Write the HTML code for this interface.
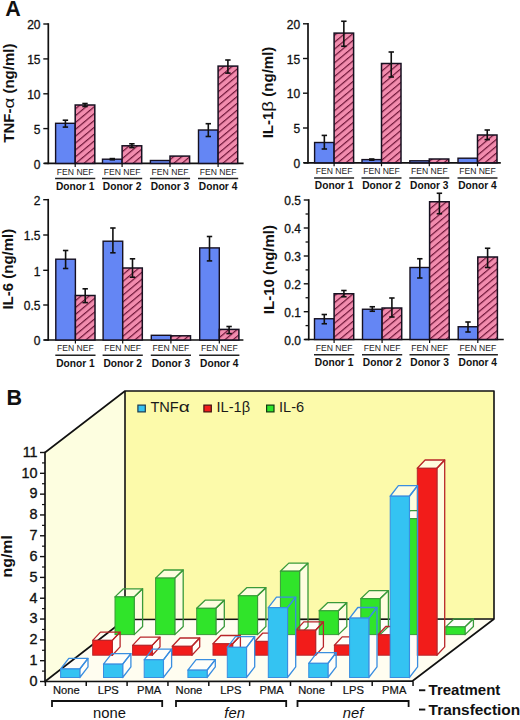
<!DOCTYPE html><html><head><meta charset="utf-8"><style>html,body{margin:0;padding:0;background:#fff;width:520px;height:720px;overflow:hidden}svg{display:block}</style></head><body>
<svg width="520" height="720" viewBox="0 0 520 720" font-family='"Liberation Sans", sans-serif'>
<defs>
<pattern id="hatch" patternUnits="userSpaceOnUse" width="5.25" height="5.25" patternTransform="rotate(50)"><rect width="5.25" height="5.25" fill="#f28cae"/><line x1="0.6" y1="0" x2="0.6" y2="5.25" stroke="#6e1538" stroke-width="1.2"/></pattern>
</defs>
<rect width="520" height="720" fill="#fff"/>
<text x="5.2" y="15.8" font-size="21.5" font-weight="bold" fill="#111">A</text>
<text x="6.5" y="404.8" font-size="21.5" font-weight="bold" fill="#111">B</text>
<line x1="48.3" y1="23.2" x2="48.3" y2="164.20000000000002" stroke="#111" stroke-width="1.7"/>
<line x1="44.3" y1="163.4" x2="243.6" y2="163.4" stroke="#111" stroke-width="1.7"/>
<line x1="43.3" y1="24" x2="48.3" y2="24" stroke="#111" stroke-width="1.4"/>
<text x="40.5" y="29.2" font-size="12" text-anchor="end" fill="#111" stroke="#111" stroke-width="0.3">20</text>
<line x1="43.3" y1="58.9" x2="48.3" y2="58.9" stroke="#111" stroke-width="1.4"/>
<text x="40.5" y="64.1" font-size="12" text-anchor="end" fill="#111" stroke="#111" stroke-width="0.3">15</text>
<line x1="43.3" y1="93.8" x2="48.3" y2="93.8" stroke="#111" stroke-width="1.4"/>
<text x="40.5" y="99.0" font-size="12" text-anchor="end" fill="#111" stroke="#111" stroke-width="0.3">10</text>
<line x1="43.3" y1="128.6" x2="48.3" y2="128.6" stroke="#111" stroke-width="1.4"/>
<text x="40.5" y="133.79999999999998" font-size="12" text-anchor="end" fill="#111" stroke="#111" stroke-width="0.3">5</text>
<line x1="43.3" y1="163.4" x2="48.3" y2="163.4" stroke="#111" stroke-width="1.4"/>
<text x="40.5" y="168.6" font-size="12" text-anchor="end" fill="#111" stroke="#111" stroke-width="0.3">0</text>
<rect x="55.6" y="123.3" width="19.6" height="40.10000000000001" fill="#6486f4" stroke="#161020" stroke-width="1.4"/>
<rect x="75.2" y="105" width="19.6" height="58.400000000000006" fill="url(#hatch)" stroke="#161020" stroke-width="1.5"/>
<line x1="65.4" y1="120.2" x2="65.4" y2="127.1" stroke="#111" stroke-width="1.6"/>
<line x1="62.7" y1="120.2" x2="68.10000000000001" y2="120.2" stroke="#111" stroke-width="1.6"/>
<line x1="62.7" y1="127.1" x2="68.10000000000001" y2="127.1" stroke="#111" stroke-width="1.6"/>
<line x1="85.0" y1="103.5" x2="85.0" y2="106.5" stroke="#111" stroke-width="1.6"/>
<line x1="82.3" y1="103.5" x2="87.7" y2="103.5" stroke="#111" stroke-width="1.6"/>
<line x1="82.3" y1="106.5" x2="87.7" y2="106.5" stroke="#111" stroke-width="1.6"/>
<line x1="75.2" y1="163.4" x2="75.2" y2="166.9" stroke="#111" stroke-width="1.2"/>
<text x="65.4" y="174.70000000000002" font-size="8.6" text-anchor="middle" fill="#222">FEN</text>
<text x="85.0" y="174.70000000000002" font-size="8.6" text-anchor="middle" fill="#222">NEF</text>
<line x1="55.1" y1="178.6" x2="95.30000000000001" y2="178.6" stroke="#222" stroke-width="1.5"/>
<text x="75.2" y="190.0" font-size="10.2" font-weight="bold" text-anchor="middle" fill="#111">Donor 1</text>
<rect x="102.5" y="159.2" width="19.6" height="4.200000000000017" fill="#6486f4" stroke="#161020" stroke-width="1.4"/>
<rect x="122.1" y="145.8" width="19.6" height="17.599999999999994" fill="url(#hatch)" stroke="#161020" stroke-width="1.5"/>
<line x1="112.3" y1="158.6" x2="112.3" y2="159.8" stroke="#111" stroke-width="1.6"/>
<line x1="109.6" y1="158.6" x2="115.0" y2="158.6" stroke="#111" stroke-width="1.6"/>
<line x1="109.6" y1="159.8" x2="115.0" y2="159.8" stroke="#111" stroke-width="1.6"/>
<line x1="131.9" y1="143.8" x2="131.9" y2="147.6" stroke="#111" stroke-width="1.6"/>
<line x1="129.20000000000002" y1="143.8" x2="134.6" y2="143.8" stroke="#111" stroke-width="1.6"/>
<line x1="129.20000000000002" y1="147.6" x2="134.6" y2="147.6" stroke="#111" stroke-width="1.6"/>
<line x1="122.1" y1="163.4" x2="122.1" y2="166.9" stroke="#111" stroke-width="1.2"/>
<text x="112.3" y="174.70000000000002" font-size="8.6" text-anchor="middle" fill="#222">FEN</text>
<text x="131.9" y="174.70000000000002" font-size="8.6" text-anchor="middle" fill="#222">NEF</text>
<line x1="102.0" y1="178.6" x2="142.2" y2="178.6" stroke="#222" stroke-width="1.5"/>
<text x="122.1" y="190.0" font-size="10.2" font-weight="bold" text-anchor="middle" fill="#111">Donor 2</text>
<rect x="150.4" y="160.5" width="19.6" height="2.9000000000000057" fill="#6486f4" stroke="#161020" stroke-width="1.4"/>
<rect x="170.0" y="156.1" width="19.6" height="7.300000000000011" fill="url(#hatch)" stroke="#161020" stroke-width="1.5"/>
<line x1="170.0" y1="163.4" x2="170.0" y2="166.9" stroke="#111" stroke-width="1.2"/>
<text x="160.20000000000002" y="174.70000000000002" font-size="8.6" text-anchor="middle" fill="#222">FEN</text>
<text x="179.8" y="174.70000000000002" font-size="8.6" text-anchor="middle" fill="#222">NEF</text>
<line x1="149.9" y1="178.6" x2="190.10000000000002" y2="178.6" stroke="#222" stroke-width="1.5"/>
<text x="170.0" y="190.0" font-size="10.2" font-weight="bold" text-anchor="middle" fill="#111">Donor 3</text>
<rect x="198.5" y="130" width="19.6" height="33.400000000000006" fill="#6486f4" stroke="#161020" stroke-width="1.4"/>
<rect x="218.1" y="66.1" width="19.6" height="97.30000000000001" fill="url(#hatch)" stroke="#161020" stroke-width="1.5"/>
<line x1="208.3" y1="123.7" x2="208.3" y2="136.5" stroke="#111" stroke-width="1.6"/>
<line x1="205.60000000000002" y1="123.7" x2="211.0" y2="123.7" stroke="#111" stroke-width="1.6"/>
<line x1="205.60000000000002" y1="136.5" x2="211.0" y2="136.5" stroke="#111" stroke-width="1.6"/>
<line x1="227.9" y1="60" x2="227.9" y2="73.1" stroke="#111" stroke-width="1.6"/>
<line x1="225.20000000000002" y1="60" x2="230.6" y2="60" stroke="#111" stroke-width="1.6"/>
<line x1="225.20000000000002" y1="73.1" x2="230.6" y2="73.1" stroke="#111" stroke-width="1.6"/>
<line x1="218.1" y1="163.4" x2="218.1" y2="166.9" stroke="#111" stroke-width="1.2"/>
<text x="208.3" y="174.70000000000002" font-size="8.6" text-anchor="middle" fill="#222">FEN</text>
<text x="227.9" y="174.70000000000002" font-size="8.6" text-anchor="middle" fill="#222">NEF</text>
<line x1="198.0" y1="178.6" x2="238.2" y2="178.6" stroke="#222" stroke-width="1.5"/>
<text x="218.1" y="190.0" font-size="10.2" font-weight="bold" text-anchor="middle" fill="#111">Donor 4</text>
<g transform="translate(14.0,93.2) rotate(-90)" font-size="15" fill="#111">
<text x="-49.58" y="0" font-weight="bold">TNF-</text>
<text transform="translate(-15.42,0) scale(1.25,1)" x="0" y="0">α</text>
<text x="-4.59" y="0" font-weight="bold" xml:space="preserve"> (ng/ml)</text>
</g>
<line x1="308" y1="23.0" x2="308" y2="163.60000000000002" stroke="#111" stroke-width="1.7"/>
<line x1="304" y1="162.8" x2="500.8" y2="162.8" stroke="#111" stroke-width="1.7"/>
<line x1="303" y1="23.8" x2="308" y2="23.8" stroke="#111" stroke-width="1.4"/>
<text x="300.2" y="29.0" font-size="12" text-anchor="end" fill="#111" stroke="#111" stroke-width="0.3">20</text>
<line x1="303" y1="58.5" x2="308" y2="58.5" stroke="#111" stroke-width="1.4"/>
<text x="300.2" y="63.7" font-size="12" text-anchor="end" fill="#111" stroke="#111" stroke-width="0.3">15</text>
<line x1="303" y1="93.2" x2="308" y2="93.2" stroke="#111" stroke-width="1.4"/>
<text x="300.2" y="98.4" font-size="12" text-anchor="end" fill="#111" stroke="#111" stroke-width="0.3">10</text>
<line x1="303" y1="128" x2="308" y2="128" stroke="#111" stroke-width="1.4"/>
<text x="300.2" y="133.2" font-size="12" text-anchor="end" fill="#111" stroke="#111" stroke-width="0.3">5</text>
<line x1="303" y1="162.8" x2="308" y2="162.8" stroke="#111" stroke-width="1.4"/>
<text x="300.2" y="168.0" font-size="12" text-anchor="end" fill="#111" stroke="#111" stroke-width="0.3">0</text>
<rect x="314.6" y="142.5" width="19.5" height="20.30000000000001" fill="#6486f4" stroke="#161020" stroke-width="1.4"/>
<rect x="334.1" y="33.1" width="19.5" height="129.70000000000002" fill="url(#hatch)" stroke="#161020" stroke-width="1.5"/>
<line x1="324.35" y1="135.4" x2="324.35" y2="149" stroke="#111" stroke-width="1.6"/>
<line x1="321.65000000000003" y1="135.4" x2="327.05" y2="135.4" stroke="#111" stroke-width="1.6"/>
<line x1="321.65000000000003" y1="149" x2="327.05" y2="149" stroke="#111" stroke-width="1.6"/>
<line x1="343.85" y1="21.25" x2="343.85" y2="46.25" stroke="#111" stroke-width="1.6"/>
<line x1="341.15000000000003" y1="21.25" x2="346.55" y2="21.25" stroke="#111" stroke-width="1.6"/>
<line x1="341.15000000000003" y1="46.25" x2="346.55" y2="46.25" stroke="#111" stroke-width="1.6"/>
<line x1="334.1" y1="162.8" x2="334.1" y2="166.3" stroke="#111" stroke-width="1.2"/>
<text x="324.35" y="174.10000000000002" font-size="8.6" text-anchor="middle" fill="#222">FEN</text>
<text x="343.85" y="174.10000000000002" font-size="8.6" text-anchor="middle" fill="#222">NEF</text>
<line x1="314.1" y1="178.0" x2="354.1" y2="178.0" stroke="#222" stroke-width="1.5"/>
<text x="334.1" y="189.4" font-size="10.2" font-weight="bold" text-anchor="middle" fill="#111">Donor 1</text>
<rect x="362" y="159.6" width="19.5" height="3.200000000000017" fill="#6486f4" stroke="#161020" stroke-width="1.4"/>
<rect x="381.5" y="63.5" width="19.5" height="99.30000000000001" fill="url(#hatch)" stroke="#161020" stroke-width="1.5"/>
<line x1="371.75" y1="159" x2="371.75" y2="160.2" stroke="#111" stroke-width="1.6"/>
<line x1="369.05" y1="159" x2="374.45" y2="159" stroke="#111" stroke-width="1.6"/>
<line x1="369.05" y1="160.2" x2="374.45" y2="160.2" stroke="#111" stroke-width="1.6"/>
<line x1="391.25" y1="52" x2="391.25" y2="77" stroke="#111" stroke-width="1.6"/>
<line x1="388.55" y1="52" x2="393.95" y2="52" stroke="#111" stroke-width="1.6"/>
<line x1="388.55" y1="77" x2="393.95" y2="77" stroke="#111" stroke-width="1.6"/>
<line x1="381.5" y1="162.8" x2="381.5" y2="166.3" stroke="#111" stroke-width="1.2"/>
<text x="371.75" y="174.10000000000002" font-size="8.6" text-anchor="middle" fill="#222">FEN</text>
<text x="391.25" y="174.10000000000002" font-size="8.6" text-anchor="middle" fill="#222">NEF</text>
<line x1="361.5" y1="178.0" x2="401.5" y2="178.0" stroke="#222" stroke-width="1.5"/>
<text x="381.5" y="189.4" font-size="10.2" font-weight="bold" text-anchor="middle" fill="#111">Donor 2</text>
<rect x="409.8" y="160.8" width="19.5" height="2.0" fill="#6486f4" stroke="#161020" stroke-width="1.4"/>
<rect x="429.3" y="159" width="19.5" height="3.8000000000000114" fill="url(#hatch)" stroke="#161020" stroke-width="1.5"/>
<line x1="429.3" y1="162.8" x2="429.3" y2="166.3" stroke="#111" stroke-width="1.2"/>
<text x="419.55" y="174.10000000000002" font-size="8.6" text-anchor="middle" fill="#222">FEN</text>
<text x="439.05" y="174.10000000000002" font-size="8.6" text-anchor="middle" fill="#222">NEF</text>
<line x1="409.3" y1="178.0" x2="449.3" y2="178.0" stroke="#222" stroke-width="1.5"/>
<text x="429.3" y="189.4" font-size="10.2" font-weight="bold" text-anchor="middle" fill="#111">Donor 3</text>
<rect x="458" y="158.2" width="19.5" height="4.600000000000023" fill="#6486f4" stroke="#161020" stroke-width="1.4"/>
<rect x="477.5" y="135" width="19.5" height="27.80000000000001" fill="url(#hatch)" stroke="#161020" stroke-width="1.5"/>
<line x1="487.25" y1="130" x2="487.25" y2="139.6" stroke="#111" stroke-width="1.6"/>
<line x1="484.55" y1="130" x2="489.95" y2="130" stroke="#111" stroke-width="1.6"/>
<line x1="484.55" y1="139.6" x2="489.95" y2="139.6" stroke="#111" stroke-width="1.6"/>
<line x1="477.5" y1="162.8" x2="477.5" y2="166.3" stroke="#111" stroke-width="1.2"/>
<text x="467.75" y="174.10000000000002" font-size="8.6" text-anchor="middle" fill="#222">FEN</text>
<text x="487.25" y="174.10000000000002" font-size="8.6" text-anchor="middle" fill="#222">NEF</text>
<line x1="457.5" y1="178.0" x2="497.5" y2="178.0" stroke="#222" stroke-width="1.5"/>
<text x="477.5" y="189.4" font-size="10.2" font-weight="bold" text-anchor="middle" fill="#111">Donor 4</text>
<g transform="translate(273.1,92.5) rotate(-90)" font-size="15" fill="#111">
<text x="-45.84" y="0" font-weight="bold">IL-1</text>
<text transform="translate(-19.17,0) scale(1.25,1)" x="0" y="0">β</text>
<text x="-8.33" y="0" font-weight="bold" xml:space="preserve"> (ng/ml)</text>
</g>
<line x1="48.2" y1="198.89999999999998" x2="48.2" y2="340.8" stroke="#111" stroke-width="1.7"/>
<line x1="44.2" y1="340" x2="243.4" y2="340" stroke="#111" stroke-width="1.7"/>
<line x1="43.2" y1="199.7" x2="48.2" y2="199.7" stroke="#111" stroke-width="1.4"/>
<text x="40.400000000000006" y="204.89999999999998" font-size="12" text-anchor="end" fill="#111" stroke="#111" stroke-width="0.3">2</text>
<line x1="43.2" y1="235" x2="48.2" y2="235" stroke="#111" stroke-width="1.4"/>
<text x="40.400000000000006" y="240.2" font-size="12" text-anchor="end" fill="#111" stroke="#111" stroke-width="0.3">1.5</text>
<line x1="43.2" y1="270.3" x2="48.2" y2="270.3" stroke="#111" stroke-width="1.4"/>
<text x="40.400000000000006" y="275.5" font-size="12" text-anchor="end" fill="#111" stroke="#111" stroke-width="0.3">1</text>
<line x1="43.2" y1="305" x2="48.2" y2="305" stroke="#111" stroke-width="1.4"/>
<text x="40.400000000000006" y="310.2" font-size="12" text-anchor="end" fill="#111" stroke="#111" stroke-width="0.3">0.5</text>
<line x1="43.2" y1="340" x2="48.2" y2="340" stroke="#111" stroke-width="1.4"/>
<text x="40.400000000000006" y="345.2" font-size="12" text-anchor="end" fill="#111" stroke="#111" stroke-width="0.3">0</text>
<rect x="55.8" y="259.2" width="19.6" height="80.80000000000001" fill="#6486f4" stroke="#161020" stroke-width="1.4"/>
<rect x="75.4" y="295.5" width="19.6" height="44.5" fill="url(#hatch)" stroke="#161020" stroke-width="1.5"/>
<line x1="65.6" y1="250.5" x2="65.6" y2="268.5" stroke="#111" stroke-width="1.6"/>
<line x1="62.89999999999999" y1="250.5" x2="68.3" y2="250.5" stroke="#111" stroke-width="1.6"/>
<line x1="62.89999999999999" y1="268.5" x2="68.3" y2="268.5" stroke="#111" stroke-width="1.6"/>
<line x1="85.2" y1="288.8" x2="85.2" y2="302.6" stroke="#111" stroke-width="1.6"/>
<line x1="82.5" y1="288.8" x2="87.9" y2="288.8" stroke="#111" stroke-width="1.6"/>
<line x1="82.5" y1="302.6" x2="87.9" y2="302.6" stroke="#111" stroke-width="1.6"/>
<line x1="75.4" y1="340" x2="75.4" y2="343.5" stroke="#111" stroke-width="1.2"/>
<text x="65.6" y="351.3" font-size="8.6" text-anchor="middle" fill="#222">FEN</text>
<text x="85.2" y="351.3" font-size="8.6" text-anchor="middle" fill="#222">NEF</text>
<line x1="55.3" y1="355.2" x2="95.5" y2="355.2" stroke="#222" stroke-width="1.5"/>
<text x="75.4" y="366.6" font-size="10.2" font-weight="bold" text-anchor="middle" fill="#111">Donor 1</text>
<rect x="103.1" y="241.2" width="19.6" height="98.80000000000001" fill="#6486f4" stroke="#161020" stroke-width="1.4"/>
<rect x="122.69999999999999" y="268" width="19.6" height="72" fill="url(#hatch)" stroke="#161020" stroke-width="1.5"/>
<line x1="112.89999999999999" y1="228" x2="112.89999999999999" y2="252.8" stroke="#111" stroke-width="1.6"/>
<line x1="110.19999999999999" y1="228" x2="115.6" y2="228" stroke="#111" stroke-width="1.6"/>
<line x1="110.19999999999999" y1="252.8" x2="115.6" y2="252.8" stroke="#111" stroke-width="1.6"/>
<line x1="132.5" y1="258.8" x2="132.5" y2="277.2" stroke="#111" stroke-width="1.6"/>
<line x1="129.8" y1="258.8" x2="135.2" y2="258.8" stroke="#111" stroke-width="1.6"/>
<line x1="129.8" y1="277.2" x2="135.2" y2="277.2" stroke="#111" stroke-width="1.6"/>
<line x1="122.69999999999999" y1="340" x2="122.69999999999999" y2="343.5" stroke="#111" stroke-width="1.2"/>
<text x="112.89999999999999" y="351.3" font-size="8.6" text-anchor="middle" fill="#222">FEN</text>
<text x="132.5" y="351.3" font-size="8.6" text-anchor="middle" fill="#222">NEF</text>
<line x1="102.6" y1="355.2" x2="142.8" y2="355.2" stroke="#222" stroke-width="1.5"/>
<text x="122.69999999999999" y="366.6" font-size="10.2" font-weight="bold" text-anchor="middle" fill="#111">Donor 2</text>
<rect x="151.3" y="335.3" width="19.6" height="4.699999999999989" fill="#6486f4" stroke="#161020" stroke-width="1.4"/>
<rect x="170.9" y="335.8" width="19.6" height="4.199999999999989" fill="url(#hatch)" stroke="#161020" stroke-width="1.5"/>
<line x1="170.9" y1="340" x2="170.9" y2="343.5" stroke="#111" stroke-width="1.2"/>
<text x="161.10000000000002" y="351.3" font-size="8.6" text-anchor="middle" fill="#222">FEN</text>
<text x="180.70000000000002" y="351.3" font-size="8.6" text-anchor="middle" fill="#222">NEF</text>
<line x1="150.8" y1="355.2" x2="191.0" y2="355.2" stroke="#222" stroke-width="1.5"/>
<text x="170.9" y="366.6" font-size="10.2" font-weight="bold" text-anchor="middle" fill="#111">Donor 3</text>
<rect x="199.7" y="247.9" width="19.6" height="92.1" fill="#6486f4" stroke="#161020" stroke-width="1.4"/>
<rect x="219.29999999999998" y="329.4" width="19.6" height="10.600000000000023" fill="url(#hatch)" stroke="#161020" stroke-width="1.5"/>
<line x1="209.5" y1="236.5" x2="209.5" y2="260.9" stroke="#111" stroke-width="1.6"/>
<line x1="206.8" y1="236.5" x2="212.2" y2="236.5" stroke="#111" stroke-width="1.6"/>
<line x1="206.8" y1="260.9" x2="212.2" y2="260.9" stroke="#111" stroke-width="1.6"/>
<line x1="229.1" y1="326.5" x2="229.1" y2="333.6" stroke="#111" stroke-width="1.6"/>
<line x1="226.4" y1="326.5" x2="231.79999999999998" y2="326.5" stroke="#111" stroke-width="1.6"/>
<line x1="226.4" y1="333.6" x2="231.79999999999998" y2="333.6" stroke="#111" stroke-width="1.6"/>
<line x1="219.29999999999998" y1="340" x2="219.29999999999998" y2="343.5" stroke="#111" stroke-width="1.2"/>
<text x="209.5" y="351.3" font-size="8.6" text-anchor="middle" fill="#222">FEN</text>
<text x="229.1" y="351.3" font-size="8.6" text-anchor="middle" fill="#222">NEF</text>
<line x1="199.2" y1="355.2" x2="239.39999999999998" y2="355.2" stroke="#222" stroke-width="1.5"/>
<text x="219.29999999999998" y="366.6" font-size="10.2" font-weight="bold" text-anchor="middle" fill="#111">Donor 4</text>
<g transform="translate(13.2,269.2) rotate(-90)" font-size="15" fill="#111">
<text x="-40.42" y="0" font-weight="bold">IL-6</text>
<text x="-13.75" y="0" font-weight="bold" xml:space="preserve"> (ng/ml)</text>
</g>
<line x1="308.75" y1="199.2" x2="308.75" y2="340.3" stroke="#111" stroke-width="1.7"/>
<line x1="304.75" y1="339.5" x2="503.75" y2="339.5" stroke="#111" stroke-width="1.7"/>
<line x1="305.55" y1="214.00" x2="308.75" y2="214.00" stroke="#111" stroke-width="1.3"/>
<line x1="305.55" y1="242.00" x2="308.75" y2="242.00" stroke="#111" stroke-width="1.3"/>
<line x1="305.55" y1="269.90" x2="308.75" y2="269.90" stroke="#111" stroke-width="1.3"/>
<line x1="305.55" y1="297.75" x2="308.75" y2="297.75" stroke="#111" stroke-width="1.3"/>
<line x1="305.55" y1="325.60" x2="308.75" y2="325.60" stroke="#111" stroke-width="1.3"/>
<line x1="303.75" y1="200" x2="308.75" y2="200" stroke="#111" stroke-width="1.4"/>
<text x="300.95" y="205.2" font-size="12" text-anchor="end" fill="#111" stroke="#111" stroke-width="0.3">0.5</text>
<line x1="303.75" y1="228" x2="308.75" y2="228" stroke="#111" stroke-width="1.4"/>
<text x="300.95" y="233.2" font-size="12" text-anchor="end" fill="#111" stroke="#111" stroke-width="0.3">0.4</text>
<line x1="303.75" y1="256" x2="308.75" y2="256" stroke="#111" stroke-width="1.4"/>
<text x="300.95" y="261.2" font-size="12" text-anchor="end" fill="#111" stroke="#111" stroke-width="0.3">0.3</text>
<line x1="303.75" y1="283.8" x2="308.75" y2="283.8" stroke="#111" stroke-width="1.4"/>
<text x="300.95" y="289.0" font-size="12" text-anchor="end" fill="#111" stroke="#111" stroke-width="0.3">0.2</text>
<line x1="303.75" y1="311.7" x2="308.75" y2="311.7" stroke="#111" stroke-width="1.4"/>
<text x="300.95" y="316.9" font-size="12" text-anchor="end" fill="#111" stroke="#111" stroke-width="0.3">0.1</text>
<line x1="303.75" y1="339.5" x2="308.75" y2="339.5" stroke="#111" stroke-width="1.4"/>
<text x="300.95" y="344.7" font-size="12" text-anchor="end" fill="#111" stroke="#111" stroke-width="0.3">0.0</text>
<rect x="314.5" y="318.75" width="19.6" height="20.75" fill="#6486f4" stroke="#161020" stroke-width="1.4"/>
<rect x="334.1" y="293.75" width="19.6" height="45.75" fill="url(#hatch)" stroke="#161020" stroke-width="1.5"/>
<line x1="324.3" y1="314.5" x2="324.3" y2="323.75" stroke="#111" stroke-width="1.6"/>
<line x1="321.6" y1="314.5" x2="327.0" y2="314.5" stroke="#111" stroke-width="1.6"/>
<line x1="321.6" y1="323.75" x2="327.0" y2="323.75" stroke="#111" stroke-width="1.6"/>
<line x1="343.9" y1="290.5" x2="343.9" y2="296.75" stroke="#111" stroke-width="1.6"/>
<line x1="341.2" y1="290.5" x2="346.59999999999997" y2="290.5" stroke="#111" stroke-width="1.6"/>
<line x1="341.2" y1="296.75" x2="346.59999999999997" y2="296.75" stroke="#111" stroke-width="1.6"/>
<line x1="334.1" y1="339.5" x2="334.1" y2="343.0" stroke="#111" stroke-width="1.2"/>
<text x="324.3" y="350.8" font-size="8.6" text-anchor="middle" fill="#222">FEN</text>
<text x="343.9" y="350.8" font-size="8.6" text-anchor="middle" fill="#222">NEF</text>
<line x1="314.0" y1="354.7" x2="354.2" y2="354.7" stroke="#222" stroke-width="1.5"/>
<text x="334.1" y="366.1" font-size="10.2" font-weight="bold" text-anchor="middle" fill="#111">Donor 1</text>
<rect x="362.5" y="309.25" width="19.6" height="30.25" fill="#6486f4" stroke="#161020" stroke-width="1.4"/>
<rect x="382.1" y="308" width="19.6" height="31.5" fill="url(#hatch)" stroke="#161020" stroke-width="1.5"/>
<line x1="372.3" y1="306.75" x2="372.3" y2="311.25" stroke="#111" stroke-width="1.6"/>
<line x1="369.6" y1="306.75" x2="375.0" y2="306.75" stroke="#111" stroke-width="1.6"/>
<line x1="369.6" y1="311.25" x2="375.0" y2="311.25" stroke="#111" stroke-width="1.6"/>
<line x1="391.9" y1="298" x2="391.9" y2="317" stroke="#111" stroke-width="1.6"/>
<line x1="389.2" y1="298" x2="394.59999999999997" y2="298" stroke="#111" stroke-width="1.6"/>
<line x1="389.2" y1="317" x2="394.59999999999997" y2="317" stroke="#111" stroke-width="1.6"/>
<line x1="382.1" y1="339.5" x2="382.1" y2="343.0" stroke="#111" stroke-width="1.2"/>
<text x="372.3" y="350.8" font-size="8.6" text-anchor="middle" fill="#222">FEN</text>
<text x="391.9" y="350.8" font-size="8.6" text-anchor="middle" fill="#222">NEF</text>
<line x1="362.0" y1="354.7" x2="402.2" y2="354.7" stroke="#222" stroke-width="1.5"/>
<text x="382.1" y="366.1" font-size="10.2" font-weight="bold" text-anchor="middle" fill="#111">Donor 2</text>
<rect x="410" y="267.5" width="19.6" height="72.0" fill="#6486f4" stroke="#161020" stroke-width="1.4"/>
<rect x="429.6" y="201.75" width="19.6" height="137.75" fill="url(#hatch)" stroke="#161020" stroke-width="1.5"/>
<line x1="419.8" y1="258.75" x2="419.8" y2="278" stroke="#111" stroke-width="1.6"/>
<line x1="417.1" y1="258.75" x2="422.5" y2="258.75" stroke="#111" stroke-width="1.6"/>
<line x1="417.1" y1="278" x2="422.5" y2="278" stroke="#111" stroke-width="1.6"/>
<line x1="439.4" y1="193.25" x2="439.4" y2="213.75" stroke="#111" stroke-width="1.6"/>
<line x1="436.7" y1="193.25" x2="442.09999999999997" y2="193.25" stroke="#111" stroke-width="1.6"/>
<line x1="436.7" y1="213.75" x2="442.09999999999997" y2="213.75" stroke="#111" stroke-width="1.6"/>
<line x1="429.6" y1="339.5" x2="429.6" y2="343.0" stroke="#111" stroke-width="1.2"/>
<text x="419.8" y="350.8" font-size="8.6" text-anchor="middle" fill="#222">FEN</text>
<text x="439.4" y="350.8" font-size="8.6" text-anchor="middle" fill="#222">NEF</text>
<line x1="409.5" y1="354.7" x2="449.7" y2="354.7" stroke="#222" stroke-width="1.5"/>
<text x="429.6" y="366.1" font-size="10.2" font-weight="bold" text-anchor="middle" fill="#111">Donor 3</text>
<rect x="458.2" y="326.75" width="19.6" height="12.75" fill="#6486f4" stroke="#161020" stroke-width="1.4"/>
<rect x="477.8" y="257" width="19.6" height="82.5" fill="url(#hatch)" stroke="#161020" stroke-width="1.5"/>
<line x1="468.0" y1="322" x2="468.0" y2="332" stroke="#111" stroke-width="1.6"/>
<line x1="465.3" y1="322" x2="470.7" y2="322" stroke="#111" stroke-width="1.6"/>
<line x1="465.3" y1="332" x2="470.7" y2="332" stroke="#111" stroke-width="1.6"/>
<line x1="487.59999999999997" y1="248.25" x2="487.59999999999997" y2="267.5" stroke="#111" stroke-width="1.6"/>
<line x1="484.9" y1="248.25" x2="490.29999999999995" y2="248.25" stroke="#111" stroke-width="1.6"/>
<line x1="484.9" y1="267.5" x2="490.29999999999995" y2="267.5" stroke="#111" stroke-width="1.6"/>
<line x1="477.8" y1="339.5" x2="477.8" y2="343.0" stroke="#111" stroke-width="1.2"/>
<text x="468.0" y="350.8" font-size="8.6" text-anchor="middle" fill="#222">FEN</text>
<text x="487.59999999999997" y="350.8" font-size="8.6" text-anchor="middle" fill="#222">NEF</text>
<line x1="457.7" y1="354.7" x2="497.9" y2="354.7" stroke="#222" stroke-width="1.5"/>
<text x="477.8" y="366.1" font-size="10.2" font-weight="bold" text-anchor="middle" fill="#111">Donor 4</text>
<g transform="translate(274.0,269.6) rotate(-90)" font-size="15" fill="#111">
<text x="-44.59" y="0" font-weight="bold">IL-10</text>
<text x="-9.58" y="0" font-weight="bold" xml:space="preserve"> (ng/ml)</text>
</g>
<polygon points="45,452.5 125,391 125,619.5 45,681.5" fill="#fdfee0"/>
<rect x="125" y="391" width="369" height="228.5" fill="#fcfaaa"/>
<polygon points="45,681.5 125,619.5 494,619 412.5,681" fill="#fffdf0"/>
<line x1="45" y1="451.8" x2="45" y2="682.3" stroke="#111" stroke-width="1.7"/>
<line x1="44.2" y1="681.5" x2="413" y2="681.2" stroke="#111" stroke-width="1.7"/>
<line x1="40" y1="681.50" x2="45" y2="681.50" stroke="#111" stroke-width="1.4"/>
<text x="37.6" y="685.80" font-size="14.4" text-anchor="end" fill="#111" stroke="#111" stroke-width="0.35">0</text>
<line x1="42" y1="671.09" x2="45" y2="671.09" stroke="#111" stroke-width="1.2"/>
<line x1="40" y1="660.68" x2="45" y2="660.68" stroke="#111" stroke-width="1.4"/>
<text x="37.6" y="664.98" font-size="14.4" text-anchor="end" fill="#111" stroke="#111" stroke-width="0.35">1</text>
<line x1="42" y1="650.27" x2="45" y2="650.27" stroke="#111" stroke-width="1.2"/>
<line x1="40" y1="639.86" x2="45" y2="639.86" stroke="#111" stroke-width="1.4"/>
<text x="37.6" y="644.16" font-size="14.4" text-anchor="end" fill="#111" stroke="#111" stroke-width="0.35">2</text>
<line x1="42" y1="629.45" x2="45" y2="629.45" stroke="#111" stroke-width="1.2"/>
<line x1="40" y1="619.05" x2="45" y2="619.05" stroke="#111" stroke-width="1.4"/>
<text x="37.6" y="623.35" font-size="14.4" text-anchor="end" fill="#111" stroke="#111" stroke-width="0.35">3</text>
<line x1="42" y1="608.64" x2="45" y2="608.64" stroke="#111" stroke-width="1.2"/>
<line x1="40" y1="598.23" x2="45" y2="598.23" stroke="#111" stroke-width="1.4"/>
<text x="37.6" y="602.53" font-size="14.4" text-anchor="end" fill="#111" stroke="#111" stroke-width="0.35">4</text>
<line x1="42" y1="587.82" x2="45" y2="587.82" stroke="#111" stroke-width="1.2"/>
<line x1="40" y1="577.41" x2="45" y2="577.41" stroke="#111" stroke-width="1.4"/>
<text x="37.6" y="581.71" font-size="14.4" text-anchor="end" fill="#111" stroke="#111" stroke-width="0.35">5</text>
<line x1="42" y1="567.00" x2="45" y2="567.00" stroke="#111" stroke-width="1.2"/>
<line x1="40" y1="556.59" x2="45" y2="556.59" stroke="#111" stroke-width="1.4"/>
<text x="37.6" y="560.89" font-size="14.4" text-anchor="end" fill="#111" stroke="#111" stroke-width="0.35">6</text>
<line x1="42" y1="546.18" x2="45" y2="546.18" stroke="#111" stroke-width="1.2"/>
<line x1="40" y1="535.77" x2="45" y2="535.77" stroke="#111" stroke-width="1.4"/>
<text x="37.6" y="540.07" font-size="14.4" text-anchor="end" fill="#111" stroke="#111" stroke-width="0.35">7</text>
<line x1="42" y1="525.36" x2="45" y2="525.36" stroke="#111" stroke-width="1.2"/>
<line x1="40" y1="514.95" x2="45" y2="514.95" stroke="#111" stroke-width="1.4"/>
<text x="37.6" y="519.25" font-size="14.4" text-anchor="end" fill="#111" stroke="#111" stroke-width="0.35">8</text>
<line x1="42" y1="504.55" x2="45" y2="504.55" stroke="#111" stroke-width="1.2"/>
<line x1="40" y1="494.14" x2="45" y2="494.14" stroke="#111" stroke-width="1.4"/>
<text x="37.6" y="498.44" font-size="14.4" text-anchor="end" fill="#111" stroke="#111" stroke-width="0.35">9</text>
<line x1="42" y1="483.73" x2="45" y2="483.73" stroke="#111" stroke-width="1.2"/>
<line x1="40" y1="473.32" x2="45" y2="473.32" stroke="#111" stroke-width="1.4"/>
<text x="37.6" y="477.62" font-size="14.4" text-anchor="end" fill="#111" stroke="#111" stroke-width="0.35">10</text>
<line x1="42" y1="462.91" x2="45" y2="462.91" stroke="#111" stroke-width="1.2"/>
<line x1="40" y1="452.50" x2="45" y2="452.50" stroke="#111" stroke-width="1.4"/>
<text x="37.6" y="456.80" font-size="14.4" text-anchor="end" fill="#111" stroke="#111" stroke-width="0.35">11</text>
<text transform="translate(11.6,556.3) rotate(-90)" font-size="14.8" font-weight="bold" text-anchor="middle" fill="#111" textLength="42.3" lengthAdjust="spacingAndGlyphs">ng/ml</text>
<line x1="86.25" y1="681.3" x2="86.25" y2="686" stroke="#111" stroke-width="1.5"/>
<line x1="127.10" y1="681.3" x2="127.10" y2="686" stroke="#111" stroke-width="1.5"/>
<line x1="167.95" y1="681.3" x2="167.95" y2="686" stroke="#111" stroke-width="1.5"/>
<line x1="208.80" y1="681.3" x2="208.80" y2="686" stroke="#111" stroke-width="1.5"/>
<line x1="249.65" y1="681.3" x2="249.65" y2="686" stroke="#111" stroke-width="1.5"/>
<line x1="290.50" y1="681.3" x2="290.50" y2="686" stroke="#111" stroke-width="1.5"/>
<line x1="331.35" y1="681.3" x2="331.35" y2="686" stroke="#111" stroke-width="1.5"/>
<line x1="372.20" y1="681.3" x2="372.20" y2="686" stroke="#111" stroke-width="1.5"/>
<line x1="413.05" y1="681.3" x2="413.05" y2="686" stroke="#111" stroke-width="1.5"/>
<line x1="45.4" y1="681.3" x2="45.4" y2="686" stroke="#111" stroke-width="1.5"/>
<text x="66.42" y="694" font-size="11.2" text-anchor="middle" fill="#111" stroke="#111" stroke-width="0.2">None</text>
<text x="108.27" y="694" font-size="11.2" text-anchor="middle" fill="#111" stroke="#111" stroke-width="0.2">LPS</text>
<text x="149.12" y="694" font-size="11.2" text-anchor="middle" fill="#111" stroke="#111" stroke-width="0.2">PMA</text>
<text x="188.97" y="694" font-size="11.2" text-anchor="middle" fill="#111" stroke="#111" stroke-width="0.2">None</text>
<text x="230.83" y="694" font-size="11.2" text-anchor="middle" fill="#111" stroke="#111" stroke-width="0.2">LPS</text>
<text x="271.68" y="694" font-size="11.2" text-anchor="middle" fill="#111" stroke="#111" stroke-width="0.2">PMA</text>
<text x="311.52" y="694" font-size="11.2" text-anchor="middle" fill="#111" stroke="#111" stroke-width="0.2">None</text>
<text x="353.38" y="694" font-size="11.2" text-anchor="middle" fill="#111" stroke="#111" stroke-width="0.2">LPS</text>
<text x="394.23" y="694" font-size="11.2" text-anchor="middle" fill="#111" stroke="#111" stroke-width="0.2">PMA</text>
<polyline points="52,707 52,701 162.2,701 162.2,707" fill="none" stroke="#111" stroke-width="1.8"/>
<text x="109.5" y="717.6" font-size="14.8" text-anchor="middle" fill="#111">none</text>
<polyline points="176,707 176,701 286.2,701 286.2,707" fill="none" stroke="#111" stroke-width="1.8"/>
<text x="234.6" y="717.6" font-size="14.8" text-anchor="middle" fill="#111" font-style="italic">fen</text>
<polyline points="297.5,707 297.5,701 408.6,701 408.6,707" fill="none" stroke="#111" stroke-width="1.8"/>
<text x="353" y="717.6" font-size="14.8" text-anchor="middle" fill="#111" font-style="italic">nef</text>
<rect x="419" y="689.3" width="6.3" height="1.9" fill="#111"/>
<rect x="419" y="708.6" width="6.3" height="1.9" fill="#111"/>
<text x="428.6" y="695.3" font-size="15" font-weight="bold" fill="#111">Treatment</text>
<text x="428.6" y="714.6" font-size="15" font-weight="bold" fill="#111" textLength="91.5" lengthAdjust="spacingAndGlyphs">Transfection</text>
<rect x="137.9" y="405.1" width="7.4" height="6.8" fill="#34c3f2" stroke="#1a3a50" stroke-width="1.2"/>
<text x="150.4" y="412.4" font-size="14.6" fill="#1a1a1a">TNF</text>
<rect x="203.9" y="405.1" width="7.4" height="6.8" fill="#f21c1a" stroke="#401010" stroke-width="1.2"/>
<text x="216.5" y="412.4" font-size="14.6" fill="#1a1a1a">IL-1β</text>
<rect x="266.6" y="405.1" width="7.4" height="6.8" fill="#30e42a" stroke="#103a10" stroke-width="1.2"/>
<text x="279" y="412.4" font-size="14.6" fill="#1a1a1a">IL-6</text>
<text transform="translate(178.78,412.4) scale(1.3,1)" font-size="14.6" fill="#1a1a1a">α</text>
<polygon points="115,596.9 123.4,588.8 142.6,588.8 142.6,626.5 134.2,634.6 134.2,596.9" fill="rgba(255,255,255,0.62)"/>
<polygon points="155.6,578.1 164.0,570.0 183.2,570.0 183.2,626.5 174.79999999999998,634.6 174.79999999999998,578.1" fill="rgba(255,255,255,0.62)"/>
<polygon points="196.7,608.3 205.1,600.1999999999999 224.29999999999998,600.1999999999999 224.29999999999998,626.5 215.89999999999998,634.6 215.89999999999998,608.3" fill="rgba(255,255,255,0.62)"/>
<polygon points="238.3,595.8 246.70000000000002,587.6999999999999 265.9,587.6999999999999 265.9,626.5 257.5,634.6 257.5,595.8" fill="rgba(255,255,255,0.62)"/>
<polygon points="280.4,571.25 288.79999999999995,563.15 307.99999999999994,563.15 307.99999999999994,626.5 299.59999999999997,634.6 299.59999999999997,571.25" fill="rgba(255,255,255,0.62)"/>
<polygon points="319.2,610.8 327.59999999999997,602.6999999999999 346.79999999999995,602.6999999999999 346.79999999999995,626.5 338.4,634.6 338.4,610.8" fill="rgba(255,255,255,0.62)"/>
<polygon points="360.8,598.75 369.2,590.65 388.4,590.65 388.4,626.5 380.0,634.6 380.0,598.75" fill="rgba(255,255,255,0.62)"/>
<polygon points="402,518.75 410.4,510.65 429.59999999999997,510.65 429.59999999999997,626.5 421.2,634.6 421.2,518.75" fill="rgba(255,255,255,0.62)"/>
<polygon points="445.8,626.9 454.2,618.8 473.4,618.8 473.4,626.5 465.0,634.6 465.0,626.9" fill="rgba(255,255,255,0.62)"/>
<polygon points="92.7,640.4 100.5,632.1 120.10000000000001,632.1 120.10000000000001,646.9000000000001 112.30000000000001,655.2 112.30000000000001,640.4" fill="rgba(255,255,255,0.62)"/>
<polygon points="132.6,645.4 140.4,637.1 160.0,637.1 160.0,646.9000000000001 152.2,655.2 152.2,645.4" fill="rgba(255,255,255,0.62)"/>
<polygon points="172.3,646.3 180.10000000000002,638.0 199.70000000000002,638.0 199.70000000000002,646.9000000000001 191.9,655.2 191.9,646.3" fill="rgba(255,255,255,0.62)"/>
<polygon points="213,643.8 220.8,635.5 240.4,635.5 240.4,646.9000000000001 232.6,655.2 232.6,643.8" fill="rgba(255,255,255,0.62)"/>
<polygon points="254.8,641.5 262.6,633.2 282.20000000000005,633.2 282.20000000000005,646.9000000000001 274.40000000000003,655.2 274.40000000000003,641.5" fill="rgba(255,255,255,0.62)"/>
<polygon points="296,630.2 303.8,621.9000000000001 323.40000000000003,621.9000000000001 323.40000000000003,646.9000000000001 315.6,655.2 315.6,630.2" fill="rgba(255,255,255,0.62)"/>
<polygon points="334.4,645.2 342.2,636.9000000000001 361.8,636.9000000000001 361.8,646.9000000000001 354.0,655.2 354.0,645.2" fill="rgba(255,255,255,0.62)"/>
<polygon points="378,634.8 385.8,626.5 405.40000000000003,626.5 405.40000000000003,646.9000000000001 397.6,655.2 397.6,634.8" fill="rgba(255,255,255,0.62)"/>
<polygon points="417.3,468.3 425.1,460.0 444.70000000000005,460.0 444.70000000000005,646.9000000000001 436.90000000000003,655.2 436.90000000000003,468.3" fill="rgba(255,255,255,0.62)"/>
<polygon points="60.6,669 68.8,658.4 88.0,658.4 88.0,666.9 79.8,677.5 79.8,669" fill="rgba(255,255,255,0.62)"/>
<polygon points="103.5,664.2 111.7,653.6 130.9,653.6 130.9,666.9 122.7,677.5 122.7,664.2" fill="rgba(255,255,255,0.62)"/>
<polygon points="144.2,659.8 152.39999999999998,649.1999999999999 171.59999999999997,649.1999999999999 171.59999999999997,666.9 163.39999999999998,677.5 163.39999999999998,659.8" fill="rgba(255,255,255,0.62)"/>
<polygon points="187.9,670.2 196.1,659.6 215.29999999999998,659.6 215.29999999999998,666.9 207.1,677.5 207.1,670.2" fill="rgba(255,255,255,0.62)"/>
<polygon points="227.3,647.3 235.5,636.6999999999999 254.7,636.6999999999999 254.7,666.9 246.5,677.5 246.5,647.3" fill="rgba(255,255,255,0.62)"/>
<polygon points="268.3,607.7 276.5,597.1 295.7,597.1 295.7,666.9 287.5,677.5 287.5,607.7" fill="rgba(255,255,255,0.62)"/>
<polygon points="308.75,663.3 316.95,652.6999999999999 336.15,652.6999999999999 336.15,666.9 327.95,677.5 327.95,663.3" fill="rgba(255,255,255,0.62)"/>
<polygon points="349.6,618.1 357.8,607.5 377.0,607.5 377.0,666.9 368.8,677.5 368.8,618.1" fill="rgba(255,255,255,0.62)"/>
<polygon points="390.2,496.25 398.4,485.65 417.59999999999997,485.65 417.59999999999997,666.9 409.4,677.5 409.4,496.25" fill="rgba(255,255,255,0.62)"/>
<g stroke="#111" stroke-width="1.6" fill="none" stroke-linejoin="round">
<polyline points="45,452.5 125,391 494,391 494,619 412.5,681"/>
<line x1="125" y1="391" x2="125" y2="619.5"/>
<line x1="125" y1="619.5" x2="494" y2="619"/>
<line x1="45" y1="681.5" x2="125" y2="619.5"/>
</g>
<polygon points="115,596.9 123.4,588.8 142.6,588.8 134.2,596.9" fill="none" stroke="#3a9a3a" stroke-width="1.3" stroke-linejoin="round"/><polygon points="134.2,596.9 142.6,588.8 142.6,626.5 134.2,634.6" fill="none" stroke="#3a9a3a" stroke-width="1.3" stroke-linejoin="round"/>
<rect x="115" y="596.9" width="19.2" height="37.700000000000045" fill="#30e42a" stroke="#3a9a3a" stroke-width="1"/>
<polygon points="155.6,578.1 164.0,570.0 183.2,570.0 174.79999999999998,578.1" fill="none" stroke="#3a9a3a" stroke-width="1.3" stroke-linejoin="round"/><polygon points="174.79999999999998,578.1 183.2,570.0 183.2,626.5 174.79999999999998,634.6" fill="none" stroke="#3a9a3a" stroke-width="1.3" stroke-linejoin="round"/>
<rect x="155.6" y="578.1" width="19.2" height="56.5" fill="#30e42a" stroke="#3a9a3a" stroke-width="1"/>
<polygon points="196.7,608.3 205.1,600.1999999999999 224.29999999999998,600.1999999999999 215.89999999999998,608.3" fill="none" stroke="#3a9a3a" stroke-width="1.3" stroke-linejoin="round"/><polygon points="215.89999999999998,608.3 224.29999999999998,600.1999999999999 224.29999999999998,626.5 215.89999999999998,634.6" fill="none" stroke="#3a9a3a" stroke-width="1.3" stroke-linejoin="round"/>
<rect x="196.7" y="608.3" width="19.2" height="26.300000000000068" fill="#30e42a" stroke="#3a9a3a" stroke-width="1"/>
<polygon points="238.3,595.8 246.70000000000002,587.6999999999999 265.9,587.6999999999999 257.5,595.8" fill="none" stroke="#3a9a3a" stroke-width="1.3" stroke-linejoin="round"/><polygon points="257.5,595.8 265.9,587.6999999999999 265.9,626.5 257.5,634.6" fill="none" stroke="#3a9a3a" stroke-width="1.3" stroke-linejoin="round"/>
<rect x="238.3" y="595.8" width="19.2" height="38.80000000000007" fill="#30e42a" stroke="#3a9a3a" stroke-width="1"/>
<polygon points="280.4,571.25 288.79999999999995,563.15 307.99999999999994,563.15 299.59999999999997,571.25" fill="none" stroke="#3a9a3a" stroke-width="1.3" stroke-linejoin="round"/><polygon points="299.59999999999997,571.25 307.99999999999994,563.15 307.99999999999994,626.5 299.59999999999997,634.6" fill="none" stroke="#3a9a3a" stroke-width="1.3" stroke-linejoin="round"/>
<rect x="280.4" y="571.25" width="19.2" height="63.35000000000002" fill="#30e42a" stroke="#3a9a3a" stroke-width="1"/>
<polygon points="319.2,610.8 327.59999999999997,602.6999999999999 346.79999999999995,602.6999999999999 338.4,610.8" fill="none" stroke="#3a9a3a" stroke-width="1.3" stroke-linejoin="round"/><polygon points="338.4,610.8 346.79999999999995,602.6999999999999 346.79999999999995,626.5 338.4,634.6" fill="none" stroke="#3a9a3a" stroke-width="1.3" stroke-linejoin="round"/>
<rect x="319.2" y="610.8" width="19.2" height="23.800000000000068" fill="#30e42a" stroke="#3a9a3a" stroke-width="1"/>
<polygon points="360.8,598.75 369.2,590.65 388.4,590.65 380.0,598.75" fill="none" stroke="#3a9a3a" stroke-width="1.3" stroke-linejoin="round"/><polygon points="380.0,598.75 388.4,590.65 388.4,626.5 380.0,634.6" fill="none" stroke="#3a9a3a" stroke-width="1.3" stroke-linejoin="round"/>
<rect x="360.8" y="598.75" width="19.2" height="35.85000000000002" fill="#30e42a" stroke="#3a9a3a" stroke-width="1"/>
<polygon points="402,518.75 410.4,510.65 429.59999999999997,510.65 421.2,518.75" fill="none" stroke="#3a9a3a" stroke-width="1.3" stroke-linejoin="round"/><polygon points="421.2,518.75 429.59999999999997,510.65 429.59999999999997,626.5 421.2,634.6" fill="none" stroke="#3a9a3a" stroke-width="1.3" stroke-linejoin="round"/>
<rect x="402" y="518.75" width="19.2" height="115.85000000000002" fill="#30e42a" stroke="#3a9a3a" stroke-width="1"/>
<polygon points="445.8,626.9 454.2,618.8 473.4,618.8 465.0,626.9" fill="none" stroke="#3a9a3a" stroke-width="1.3" stroke-linejoin="round"/><polygon points="465.0,626.9 473.4,618.8 473.4,626.5 465.0,634.6" fill="none" stroke="#3a9a3a" stroke-width="1.3" stroke-linejoin="round"/>
<rect x="445.8" y="626.9" width="19.2" height="7.7000000000000455" fill="#30e42a" stroke="#3a9a3a" stroke-width="1"/>
<polygon points="92.7,640.4 100.5,632.1 120.10000000000001,632.1 112.30000000000001,640.4" fill="none" stroke="#b8262a" stroke-width="1.3" stroke-linejoin="round"/><polygon points="112.30000000000001,640.4 120.10000000000001,632.1 120.10000000000001,646.9000000000001 112.30000000000001,655.2" fill="none" stroke="#b8262a" stroke-width="1.3" stroke-linejoin="round"/>
<rect x="92.7" y="640.4" width="19.6" height="14.800000000000068" fill="#f21c1a" stroke="#b8262a" stroke-width="1"/>
<polygon points="132.6,645.4 140.4,637.1 160.0,637.1 152.2,645.4" fill="none" stroke="#b8262a" stroke-width="1.3" stroke-linejoin="round"/><polygon points="152.2,645.4 160.0,637.1 160.0,646.9000000000001 152.2,655.2" fill="none" stroke="#b8262a" stroke-width="1.3" stroke-linejoin="round"/>
<rect x="132.6" y="645.4" width="19.6" height="9.800000000000068" fill="#f21c1a" stroke="#b8262a" stroke-width="1"/>
<polygon points="172.3,646.3 180.10000000000002,638.0 199.70000000000002,638.0 191.9,646.3" fill="none" stroke="#b8262a" stroke-width="1.3" stroke-linejoin="round"/><polygon points="191.9,646.3 199.70000000000002,638.0 199.70000000000002,646.9000000000001 191.9,655.2" fill="none" stroke="#b8262a" stroke-width="1.3" stroke-linejoin="round"/>
<rect x="172.3" y="646.3" width="19.6" height="8.900000000000091" fill="#f21c1a" stroke="#b8262a" stroke-width="1"/>
<polygon points="213,643.8 220.8,635.5 240.4,635.5 232.6,643.8" fill="none" stroke="#b8262a" stroke-width="1.3" stroke-linejoin="round"/><polygon points="232.6,643.8 240.4,635.5 240.4,646.9000000000001 232.6,655.2" fill="none" stroke="#b8262a" stroke-width="1.3" stroke-linejoin="round"/>
<rect x="213" y="643.8" width="19.6" height="11.400000000000091" fill="#f21c1a" stroke="#b8262a" stroke-width="1"/>
<polygon points="254.8,641.5 262.6,633.2 282.20000000000005,633.2 274.40000000000003,641.5" fill="none" stroke="#b8262a" stroke-width="1.3" stroke-linejoin="round"/><polygon points="274.40000000000003,641.5 282.20000000000005,633.2 282.20000000000005,646.9000000000001 274.40000000000003,655.2" fill="none" stroke="#b8262a" stroke-width="1.3" stroke-linejoin="round"/>
<rect x="254.8" y="641.5" width="19.6" height="13.700000000000045" fill="#f21c1a" stroke="#b8262a" stroke-width="1"/>
<polygon points="296,630.2 303.8,621.9000000000001 323.40000000000003,621.9000000000001 315.6,630.2" fill="none" stroke="#b8262a" stroke-width="1.3" stroke-linejoin="round"/><polygon points="315.6,630.2 323.40000000000003,621.9000000000001 323.40000000000003,646.9000000000001 315.6,655.2" fill="none" stroke="#b8262a" stroke-width="1.3" stroke-linejoin="round"/>
<rect x="296" y="630.2" width="19.6" height="25.0" fill="#f21c1a" stroke="#b8262a" stroke-width="1"/>
<polygon points="334.4,645.2 342.2,636.9000000000001 361.8,636.9000000000001 354.0,645.2" fill="none" stroke="#b8262a" stroke-width="1.3" stroke-linejoin="round"/><polygon points="354.0,645.2 361.8,636.9000000000001 361.8,646.9000000000001 354.0,655.2" fill="none" stroke="#b8262a" stroke-width="1.3" stroke-linejoin="round"/>
<rect x="334.4" y="645.2" width="19.6" height="10.0" fill="#f21c1a" stroke="#b8262a" stroke-width="1"/>
<polygon points="378,634.8 385.8,626.5 405.40000000000003,626.5 397.6,634.8" fill="none" stroke="#b8262a" stroke-width="1.3" stroke-linejoin="round"/><polygon points="397.6,634.8 405.40000000000003,626.5 405.40000000000003,646.9000000000001 397.6,655.2" fill="none" stroke="#b8262a" stroke-width="1.3" stroke-linejoin="round"/>
<rect x="378" y="634.8" width="19.6" height="20.40000000000009" fill="#f21c1a" stroke="#b8262a" stroke-width="1"/>
<polygon points="417.3,468.3 425.1,460.0 444.70000000000005,460.0 436.90000000000003,468.3" fill="none" stroke="#b8262a" stroke-width="1.3" stroke-linejoin="round"/><polygon points="436.90000000000003,468.3 444.70000000000005,460.0 444.70000000000005,646.9000000000001 436.90000000000003,655.2" fill="none" stroke="#b8262a" stroke-width="1.3" stroke-linejoin="round"/>
<rect x="417.3" y="468.3" width="19.6" height="186.90000000000003" fill="#f21c1a" stroke="#b8262a" stroke-width="1"/>
<polygon points="60.6,669 68.8,658.4 88.0,658.4 79.8,669" fill="none" stroke="#3a8ee0" stroke-width="1.3" stroke-linejoin="round"/><polygon points="79.8,669 88.0,658.4 88.0,666.9 79.8,677.5" fill="none" stroke="#3a8ee0" stroke-width="1.3" stroke-linejoin="round"/>
<rect x="60.6" y="669" width="19.2" height="8.5" fill="#34c3f2" stroke="#3a8ee0" stroke-width="1"/>
<polygon points="103.5,664.2 111.7,653.6 130.9,653.6 122.7,664.2" fill="none" stroke="#3a8ee0" stroke-width="1.3" stroke-linejoin="round"/><polygon points="122.7,664.2 130.9,653.6 130.9,666.9 122.7,677.5" fill="none" stroke="#3a8ee0" stroke-width="1.3" stroke-linejoin="round"/>
<rect x="103.5" y="664.2" width="19.2" height="13.299999999999955" fill="#34c3f2" stroke="#3a8ee0" stroke-width="1"/>
<polygon points="144.2,659.8 152.39999999999998,649.1999999999999 171.59999999999997,649.1999999999999 163.39999999999998,659.8" fill="none" stroke="#3a8ee0" stroke-width="1.3" stroke-linejoin="round"/><polygon points="163.39999999999998,659.8 171.59999999999997,649.1999999999999 171.59999999999997,666.9 163.39999999999998,677.5" fill="none" stroke="#3a8ee0" stroke-width="1.3" stroke-linejoin="round"/>
<rect x="144.2" y="659.8" width="19.2" height="17.700000000000045" fill="#34c3f2" stroke="#3a8ee0" stroke-width="1"/>
<polygon points="187.9,670.2 196.1,659.6 215.29999999999998,659.6 207.1,670.2" fill="none" stroke="#3a8ee0" stroke-width="1.3" stroke-linejoin="round"/><polygon points="207.1,670.2 215.29999999999998,659.6 215.29999999999998,666.9 207.1,677.5" fill="none" stroke="#3a8ee0" stroke-width="1.3" stroke-linejoin="round"/>
<rect x="187.9" y="670.2" width="19.2" height="7.2999999999999545" fill="#34c3f2" stroke="#3a8ee0" stroke-width="1"/>
<polygon points="227.3,647.3 235.5,636.6999999999999 254.7,636.6999999999999 246.5,647.3" fill="none" stroke="#3a8ee0" stroke-width="1.3" stroke-linejoin="round"/><polygon points="246.5,647.3 254.7,636.6999999999999 254.7,666.9 246.5,677.5" fill="none" stroke="#3a8ee0" stroke-width="1.3" stroke-linejoin="round"/>
<rect x="227.3" y="647.3" width="19.2" height="30.200000000000045" fill="#34c3f2" stroke="#3a8ee0" stroke-width="1"/>
<polygon points="268.3,607.7 276.5,597.1 295.7,597.1 287.5,607.7" fill="none" stroke="#3a8ee0" stroke-width="1.3" stroke-linejoin="round"/><polygon points="287.5,607.7 295.7,597.1 295.7,666.9 287.5,677.5" fill="none" stroke="#3a8ee0" stroke-width="1.3" stroke-linejoin="round"/>
<rect x="268.3" y="607.7" width="19.2" height="69.79999999999995" fill="#34c3f2" stroke="#3a8ee0" stroke-width="1"/>
<polygon points="308.75,663.3 316.95,652.6999999999999 336.15,652.6999999999999 327.95,663.3" fill="none" stroke="#3a8ee0" stroke-width="1.3" stroke-linejoin="round"/><polygon points="327.95,663.3 336.15,652.6999999999999 336.15,666.9 327.95,677.5" fill="none" stroke="#3a8ee0" stroke-width="1.3" stroke-linejoin="round"/>
<rect x="308.75" y="663.3" width="19.2" height="14.200000000000045" fill="#34c3f2" stroke="#3a8ee0" stroke-width="1"/>
<polygon points="349.6,618.1 357.8,607.5 377.0,607.5 368.8,618.1" fill="none" stroke="#3a8ee0" stroke-width="1.3" stroke-linejoin="round"/><polygon points="368.8,618.1 377.0,607.5 377.0,666.9 368.8,677.5" fill="none" stroke="#3a8ee0" stroke-width="1.3" stroke-linejoin="round"/>
<rect x="349.6" y="618.1" width="19.2" height="59.39999999999998" fill="#34c3f2" stroke="#3a8ee0" stroke-width="1"/>
<polygon points="390.2,496.25 398.4,485.65 417.59999999999997,485.65 409.4,496.25" fill="none" stroke="#3a8ee0" stroke-width="1.3" stroke-linejoin="round"/><polygon points="409.4,496.25 417.59999999999997,485.65 417.59999999999997,666.9 409.4,677.5" fill="none" stroke="#3a8ee0" stroke-width="1.3" stroke-linejoin="round"/>
<rect x="390.2" y="496.25" width="19.2" height="181.25" fill="#34c3f2" stroke="#3a8ee0" stroke-width="1"/>
</svg></body></html>
